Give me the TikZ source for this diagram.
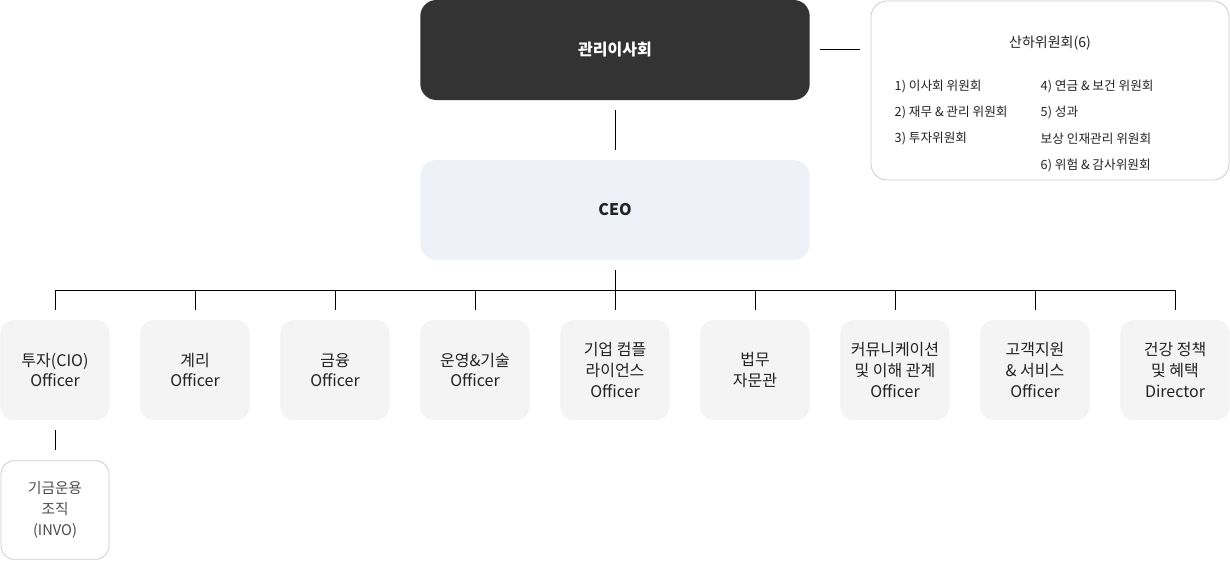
\documentclass[tikz,border=0pt]{standalone}
\usepackage{fontspec}
\setmainfont{Noto Sans CJK KR}
\usetikzlibrary{positioning}
\definecolor{board}{HTML}{333333}
\definecolor{ceofill}{HTML}{EEF2F8}
\definecolor{unitfill}{HTML}{F4F4F4}
\definecolor{edge}{HTML}{CCCCCC}
\definecolor{txt}{HTML}{222222}
\begin{document}
\begin{tikzpicture}[x=0.75pt, y=-0.75pt, font=\fontsize{12}{15}\selectfont,
  every box/.style={rounded corners=12pt, minimum width=292pt, minimum height=75pt, inner sep=0pt, text=txt},
  unit/.style={rounded corners=10pt, fill=unitfill, minimum width=82pt, minimum height=75pt,
    inner sep=0pt, align=center, text=txt, font=\fontsize{12}{15.5}\selectfont},
  link/.style={draw=black, line width=0.6pt}]

\useasboundingbox (0,0) rectangle (1230,560);

\node [every box, fill=board, text=white, font=\bfseries\fontsize{12}{15}\selectfont] (board) at (615,50) {관리이사회};
\node [every box, fill=ceofill, font=\bfseries\fontsize{12}{15}\selectfont] (ceo) at (615,210) {CEO};

\draw [draw=edge, rounded corners=12pt, line width=0.6pt] (871,1) rectangle (1229,180);
\node [text=txt, font=\fontsize{10.5}{13}\selectfont] (committee) at (1050,43) {산하위원회(6)};
\foreach \l [count=\i] in {1) 이사회 위원회, 2) 재무 \& 관리 위원회, 3) 투자위원회}
  \node [anchor=west, text=txt, font=\fontsize{9.5}{12}\selectfont] (cl-\i) at (890,61+\i*26) {\l};
\foreach \l [count=\i] in {4) 연금 \& 보건 위원회, 5) 성과, 보상 인재관리 위원회, 6) 위험 \& 감사위원회}
  \node [anchor=west, text=txt, font=\fontsize{9.5}{12}\selectfont] (cr-\i) at (1036,61+\i*26) {\l};

\coordinate (cm-a) at (820,49);
\coordinate (cm-b) at (860,49);
\draw [link] (cm-a) -- (cm-b);

\coordinate (b-out) at (615,110);
\coordinate (c-in) at (615,150);
\draw [link] (b-out) -- (c-in);

\coordinate (c-out) at (615,270);
\coordinate (bus) at (615,290);
\draw [link] (c-out) -- (bus);

\foreach \l [count=\i from 0] in {투자(CIO)\\Officer, 계리\\Officer, 금융\\Officer, 운영\&기술\\Officer,
    기업 컴플\\라이언스\\Officer, 법무\\자문관, 커뮤니케이션\\및 이해 관계\\Officer,
    고객지원\\\& 서비스\\Officer, 건강 정책\\및 혜택\\Director} {
  \node [unit] (unit-\i) at (55+\i*140,370) {\l};
  \coordinate (drop-\i) at (55+\i*140,290);
  \draw [link] (drop-\i) -- ++(0,20);
}
\draw [link] (drop-0) -- (drop-8);

\coordinate (u-out) at (55,430);
\coordinate (s-in) at (55,450);
\draw [link] (u-out) -- (s-in);
\node [unit, fill=white, draw=edge, line width=0.6pt, minimum width=81pt, minimum height=74pt,
  text=black!70, font=\fontsize{11}{15.5}\selectfont] (invo) at (55,510) {기금운용\\조직\\(INVO)};

\end{tikzpicture}
\end{document}
